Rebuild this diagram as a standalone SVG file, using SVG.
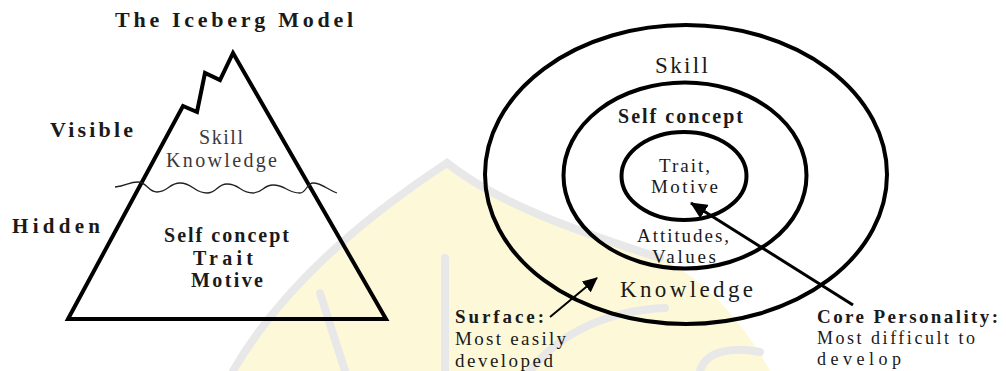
<svg xmlns="http://www.w3.org/2000/svg" width="1006" height="371" viewBox="0 0 1006 371">
  <style>
    .t { font-family: "Liberation Serif", "Times New Roman", serif; fill: #1a1a1a; }
    .b { font-weight: bold; }
    .g { fill: #3a3a3a; }
    .shape { fill: none; stroke: #000; stroke-width: 4; }
    .wm-band { fill: none; stroke: #e8e8e8; stroke-width: 8; stroke-linecap: round; }
  </style>
  <defs>
    <marker id="ahS" markerUnits="userSpaceOnUse" markerWidth="16" markerHeight="14" refX="14" refY="7" orient="auto">
      <path d="M0,0 L15,7 L0,14 Z" fill="#000"/>
    </marker>
    <marker id="ahC" markerUnits="userSpaceOnUse" markerWidth="18" markerHeight="16" refX="16" refY="8" orient="auto">
      <path d="M0,0 L17,8 L0,16 Z" fill="#000"/>
    </marker>
  </defs>
  <rect width="1006" height="371" fill="#fff"/>

  <!-- faint watermark -->
  <g id="watermark">
    <path d="M233 371 C 280 290, 360 220, 447 163 C 500 205, 580 232, 660 258 C 705 278, 745 325, 770 371 Z" fill="#fdf9d8"/>
    <path class="wm-band" d="M233 371 C 280 290, 360 220, 447 163 C 500 205, 580 232, 660 258"/>
    <path class="wm-band" d="M445 258 V 371"/>
    <path class="wm-band" d="M320 293 L 345 371"/>
    <path class="wm-band" d="M530 371 C 560 332, 610 310, 665 308"/>
    <path class="wm-band" d="M700 371 C 705 352, 730 346, 760 352"/>
  </g>

  <!-- Iceberg model -->
  <g id="iceberg">
    <path class="shape" d="M68 319 L183 106 L197 112 L205 73 L220 80 L233 53 L386 319 Z" stroke-linejoin="miter"/>
    <path id="waterline" fill="none" stroke="#222" stroke-width="1.3" d="M115 187 C127 186,128 182,138 182 C147 182,148 192,157 192 C168 192,169 183,180 183 C193 183,194 193,207 193 C217 193,217 184,227 184 C240 184,240 193,253 193 C263 193,263 185,273 185 C286 185,287 193,300 193 C306 193,307 183,313 183 C322 183,328 190,337 193"/>
  </g>
  <g id="iceberg-title"><text class="t b" x="115" y="27" font-size="22" textLength="238" lengthAdjust="spacing">The Iceberg Model</text></g>
  <g id="label-visible"><text class="t b" x="50" y="137" font-size="22" textLength="83" lengthAdjust="spacing">Visible</text></g>
  <g id="label-hidden"><text class="t b" x="12" y="233" font-size="21" textLength="88" lengthAdjust="spacing">Hidden</text></g>
  <g id="iceberg-top">
    <text class="t g" x="199" y="144" font-size="20" textLength="44" lengthAdjust="spacing">Skill</text>
    <text class="t g" x="166" y="167" font-size="20" textLength="111" lengthAdjust="spacing">Knowledge</text>
  </g>
  <g id="iceberg-bottom">
    <text class="t b" x="164" y="242" font-size="20" textLength="125" lengthAdjust="spacing">Self concept</text>
    <text class="t b" x="193" y="265" font-size="20" textLength="60" lengthAdjust="spacing">Trait</text>
    <text class="t b" x="191" y="287" font-size="20" textLength="72" lengthAdjust="spacing">Motive</text>
  </g>

  <!-- Onion model -->
  <g id="ring-outer">
    <ellipse class="shape" cx="686" cy="174.5" rx="201" ry="149.5"/>
    <text class="t" x="655" y="73" font-size="23" textLength="53" lengthAdjust="spacing">Skill</text>
    <text class="t" x="620" y="297" font-size="23" textLength="133" lengthAdjust="spacing">Knowledge</text>
  </g>
  <g id="ring-middle">
    <ellipse class="shape" cx="685" cy="175.5" rx="121.5" ry="93"/>
    <text class="t b" x="618" y="123" font-size="20" textLength="125" lengthAdjust="spacing">Self concept</text>
    <text class="t" x="637" y="242" font-size="19" textLength="92" lengthAdjust="spacing">Attitudes,</text>
    <text class="t" x="652" y="263" font-size="19" textLength="64" lengthAdjust="spacing">Values</text>
  </g>
  <g id="ring-inner">
    <ellipse class="shape" cx="684" cy="176" rx="62.5" ry="44"/>
    <text class="t" x="659" y="172" font-size="19" textLength="51" lengthAdjust="spacing">Trait,</text>
    <text class="t" x="651" y="193" font-size="19" textLength="67" lengthAdjust="spacing">Motive</text>
  </g>
  <g id="note-surface">
    <text class="t b" x="455" y="323" font-size="19" textLength="89" lengthAdjust="spacing">Surface:</text>
    <text class="t" x="455" y="345" font-size="19" textLength="111" lengthAdjust="spacing">Most easily</text>
    <text class="t" x="455" y="367" font-size="19" textLength="98" lengthAdjust="spacing">developed</text>
  </g>
  <g id="note-core">
    <text class="t b" x="817" y="323" font-size="19" textLength="181" lengthAdjust="spacing">Core Personality:</text>
    <text class="t" x="817" y="344" font-size="18" textLength="158" lengthAdjust="spacing">Most difficult to</text>
    <text class="t" x="817" y="365" font-size="18" textLength="84" lengthAdjust="spacing">develop</text>
  </g>

  <g id="connectors" fill="none" stroke="#000">
    <line x1="550" y1="317" x2="597" y2="278" stroke-width="2" marker-end="url(#ahS)"/>
    <line x1="853" y1="305" x2="691" y2="203" stroke-width="3" marker-end="url(#ahC)"/>
  </g>
</svg>
